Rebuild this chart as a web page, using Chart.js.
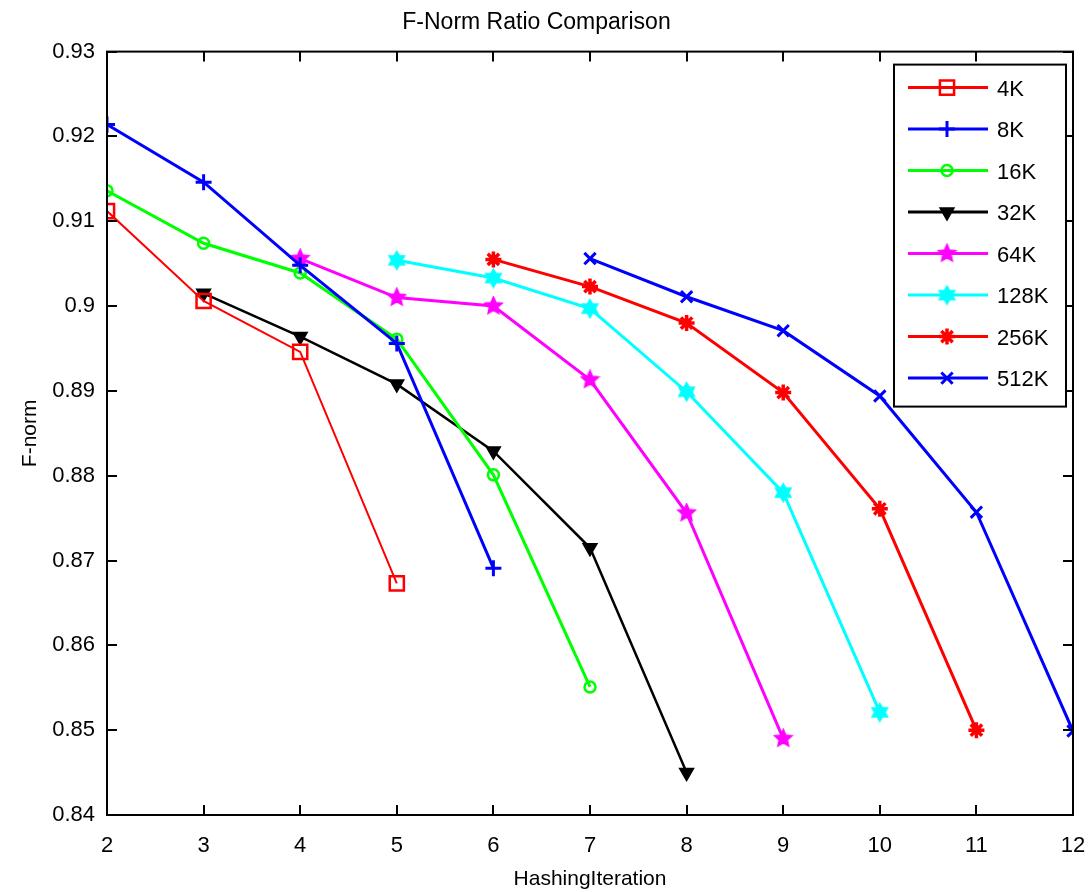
<!DOCTYPE html>
<html>
<head>
<meta charset="utf-8">
<script src="https://cdn.jsdelivr.net/npm/chart.js@4/dist/chart.umd.min.js"></script>
<style>
html,body{margin:0;padding:0;background:#fff}
canvas{display:block}
</style>
</head>
<body>
<canvas id="c" width="1091" height="892"></canvas>
<script>
// F-Norm Ratio Comparison — hashing iteration vs F-norm, one line per table size

var labels = ['4K','8K','16K','32K','64K','128K','256K','512K'];

var iter4K   = [2,3,4,5];
var fnorm4K  = [0.9112,0.9006,0.8946,0.8673];
var iter8K   = [2,3,4,5,6];
var fnorm8K  = [0.9214,0.9146,0.9048,0.8956,0.8691];
var iter16K  = [2,3,4,5,6,7];
var fnorm16K = [0.9136,0.9074,0.9039,0.8961,0.8801,0.8551];
var iter32K  = [3,4,5,6,7,8];
var fnorm32K = [0.9015,0.8964,0.8908,0.8829,0.8715,0.8450];
var iter64K  = [4,5,6,7,8,9];
var fnorm64K = [0.9056,0.9010,0.9000,0.8913,0.8756,0.8490];
var iter128K = [5,6,7,8,9,10];
var fnorm128K= [0.9054,0.9033,0.8997,0.8899,0.8780,0.8521];
var iter256K = [6,7,8,9,10,11];
var fnorm256K= [0.9055,0.9023,0.8980,0.8898,0.8761,0.8500];
var iter512K = [7,8,9,10,11,12];
var fnorm512K= [0.9056,0.9011,0.8971,0.8894,0.8757,0.8499];

var xTicks = [2,3,4,5,6,7,8,9,10,11,12];
var yTicks = [0.84,0.85,0.86,0.87,0.88,0.89,0.90,0.91,0.92,0.93];

var FONT = "'Liberation Sans',Arial,sans-serif";

// star-shaped markers (MATLAB pentagram / hexagram)
function starMarker(n, col, ro, ri){
    var s = Math.ceil(ro*2+4), c = document.createElement('canvas');
    c.width = s; c.height = s;
    var g = c.getContext('2d'), m = s/2;
    g.beginPath();
    for(var k=0;k<n*2;k++){
        var r = k%2 ? ri : ro, a = -Math.PI/2 + k*Math.PI/n;
        var px = m + r*Math.cos(a), py = m + r*Math.sin(a);
        if(k===0) g.moveTo(px,py); else g.lineTo(px,py);
    }
    g.closePath();
    g.fillStyle = col; g.strokeStyle = col; g.lineWidth = 2;
    g.fill(); g.stroke();
    return c;
}

function pts(xs, ys){ return xs.map(function(x,i){ return {x:x, y:ys[i]}; }); }

var sty = [
    {col:'#ff0000', w:2,   ps:'rect',      r:10, bw:2.5, fill:false, rot:0},
    {col:'#0000ff', w:3,   ps:'cross',     r:8,  bw:3,   fill:false, rot:0},
    {col:'#00ff00', w:3,   ps:'circle',    r:5.5,bw:2.5, fill:false, rot:0},
    {col:'#000000', w:2.5, ps:'triangle',  r:8,  bw:1.5, fill:true,  rot:180},
    {col:'#ff00ff', w:3,   ps:starMarker(5,'#ff00ff',8.5,4), r:9, bw:1, fill:true, rot:0},
    {col:'#00ffff', w:3,   ps:starMarker(6,'#00ffff',8.5,5), r:9, bw:1, fill:true, rot:0},
    {col:'#ff0000', w:3,   ps:'star',      r:8,  bw:3.5, fill:false, rot:0},
    {col:'#0000ff', w:3,   ps:'crossRot',  r:8,  bw:3,   fill:false, rot:0}
];
var series = [
    pts(iter4K,fnorm4K), pts(iter8K,fnorm8K), pts(iter16K,fnorm16K), pts(iter32K,fnorm32K),
    pts(iter64K,fnorm64K), pts(iter128K,fnorm128K), pts(iter256K,fnorm256K), pts(iter512K,fnorm512K)
];

var ds = series.map(function(d,i){
    var s = sty[i];
    return {
        label: labels[i], data: d,
        borderColor: s.col, borderWidth: s.w, backgroundColor: s.col,
        pointStyle: s.ps, pointRadius: s.r, pointRotation: s.rot,
        pointBorderColor: s.col, pointBorderWidth: s.bw,
        pointBackgroundColor: s.fill ? s.col : 'rgba(0,0,0,0)',
        tension: 0, fill: false
    };
});

// box + inward ticks on all four sides, MATLAB style
var boxPlugin = {
    id: 'box',
    afterDraw: function(chart){
        var ctx = chart.ctx, a = chart.chartArea, xs = chart.scales.x, ys = chart.scales.y, L = 10;
        ctx.save();
        ctx.strokeStyle = '#000'; ctx.lineWidth = 2;
        ctx.beginPath();
        xTicks.forEach(function(v){
            var px = Math.round(xs.getPixelForValue(v));
            ctx.moveTo(px, a.bottom); ctx.lineTo(px, a.bottom - L);
            ctx.moveTo(px, a.top); ctx.lineTo(px, a.top + L);
        });
        yTicks.forEach(function(v){
            var py = Math.round(ys.getPixelForValue(v));
            ctx.moveTo(a.left, py); ctx.lineTo(a.left + L, py);
            ctx.moveTo(a.right, py); ctx.lineTo(a.right - L, py);
        });
        ctx.stroke();
        ctx.strokeRect(a.left, a.top, a.right - a.left, a.bottom - a.top);
        ctx.restore();
    }
};

// legend box in upper right corner of the axes
var legendPlugin = {
    id: 'mlegend',
    afterDraw: function(chart){
        var ctx = chart.ctx, a = chart.chartArea;
        var bx = a.right - 179, by = a.top + 13, bw = 172, bh = 342, row = 41.5;
        ctx.save();
        ctx.fillStyle = '#fff'; ctx.fillRect(bx, by, bw, bh);
        ctx.strokeStyle = '#000'; ctx.lineWidth = 2; ctx.strokeRect(bx, by, bw, bh);
        ctx.font = '22px ' + FONT; ctx.textBaseline = 'middle'; ctx.textAlign = 'left';
        chart.data.datasets.forEach(function(d, i){
            var y = by + 23 + i*row;
            ctx.strokeStyle = d.borderColor; ctx.lineWidth = 3;
            ctx.beginPath(); ctx.moveTo(bx + 14, y); ctx.lineTo(bx + 94, y); ctx.stroke();
            ctx.fillStyle = d.pointBackgroundColor; ctx.strokeStyle = d.pointBorderColor; ctx.lineWidth = d.pointBorderWidth;
            Chart.helpers.drawPoint(ctx, {pointStyle: d.pointStyle, rotation: d.pointRotation, radius: d.pointRadius, borderWidth: d.pointBorderWidth}, bx + 53, y);
            ctx.fillStyle = '#000';
            ctx.fillText(d.label, bx + 103, y + 2);
        });
        ctx.restore();
    }
};

new Chart(document.getElementById('c').getContext('2d'), {
    type: 'line',
    data: {datasets: ds},
    options: {
        responsive: false, animation: false, devicePixelRatio: 1,
        layout: {padding: {left: 0, right: 18, top: 0, bottom: 0}},
        plugins: {
            legend: {display: false}, tooltip: {enabled: false},
            title: {display: true, text: 'F-Norm Ratio Comparison', color: '#000',
                font: {family: FONT, size: 23, weight: 'normal'},
                padding: {top: 9, bottom: 15}}
        },
        scales: {
            x: {
                type: 'linear', min: 2, max: 12,
                grid: {display: false, drawTicks: false}, border: {display: false},
                ticks: {stepSize: 1, color: '#000', padding: 18, font: {family: FONT, size: 22}},
                title: {display: true, text: 'HashingIteration', color: '#000', font: {family: FONT, size: 21}, padding: {top: 0, bottom: 0}},
                afterFit: function(s){ s.height = 77; s.paddingLeft = 0; s.paddingRight = 0; }
            },
            y: {
                min: 0.84, max: 0.93,
                grid: {display: false, drawTicks: false}, border: {display: false},
                ticks: {stepSize: 0.01, color: '#000', padding: 12, font: {family: FONT, size: 22},
                    callback: function(v){ return String(parseFloat(v.toFixed(2))); }},
                title: {display: true, text: 'F-norm', color: '#000', font: {family: FONT, size: 21}, padding: {top: 18}},
                afterFit: function(s){ s.width = 107; s.paddingTop = 0; s.paddingBottom = 0; }
            }
        }
    },
    plugins: [boxPlugin, legendPlugin]
});
</script>
</body>
</html>
